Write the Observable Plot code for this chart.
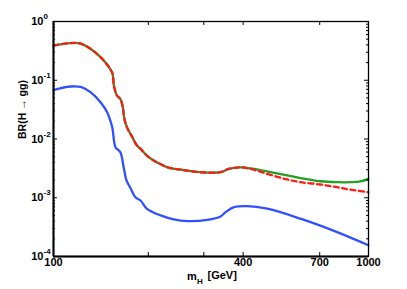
<!DOCTYPE html>
<html><head><meta charset="utf-8">
<script src="https://cdn.jsdelivr.net/npm/d3@7"></script>
<script src="https://cdn.jsdelivr.net/npm/@observablehq/plot@0.6"></script>
<style>html,body{margin:0;padding:0;background:#fff} svg{display:block}</style>
</head><body><div id="chart"></div>
<script>
// Green solid curve
const massGreen = [100, 113, 122, 131, 141, 150, 154, 155.5, 159, 163, 165, 166.5, 167.5, 171, 178, 184, 189, 198, 208, 213, 230, 250, 266, 293, 339, 360, 392, 432, 489, 552, 608, 704, 795, 877, 943, 1000];
const brGreen   = [0.39, 0.43, 0.42, 0.343, 0.247, 0.167, 0.129, 0.081, 0.055, 0.048, 0.040, 0.031, 0.0235, 0.0159, 0.0107, 0.00775, 0.0068, 0.0052, 0.0043, 0.0040, 0.0033, 0.00303, 0.0029, 0.00272, 0.00272, 0.0031, 0.0033, 0.0031, 0.00272, 0.0024, 0.00216, 0.00191, 0.00184, 0.00184, 0.0019, 0.0021];
// Red dashed curve
const massRed = [100, 113, 122, 131, 141, 150, 154, 155.5, 159, 163, 165, 166.5, 167.5, 171, 178, 184, 189, 198, 208, 213, 230, 250, 266, 293, 339, 360, 392, 432, 489, 552, 608, 704, 795, 877, 1000];
const brRed   = [0.39, 0.43, 0.42, 0.343, 0.247, 0.167, 0.129, 0.081, 0.055, 0.048, 0.040, 0.031, 0.0235, 0.0159, 0.0107, 0.00775, 0.0068, 0.0052, 0.0043, 0.0040, 0.0033, 0.00303, 0.0029, 0.00272, 0.00272, 0.0031, 0.0033, 0.0030, 0.00245, 0.00205, 0.00184, 0.00168, 0.00151, 0.00137, 0.00124];
// Blue solid curve
const massBlue = [100, 113, 122, 131, 141, 148, 153.6, 157.3, 163, 167, 170.5, 176, 182, 189, 198, 219, 241, 266, 308, 339, 352, 374, 412, 477, 608, 795, 1000];
const brBlue   = [0.0682, 0.0783, 0.077, 0.0626, 0.0423, 0.0286, 0.0159, 0.00725, 0.00596, 0.00331, 0.00197, 0.00142, 0.00102, 0.000898, 0.000648, 0.0005, 0.000427, 0.0004, 0.00042, 0.00048, 0.00057, 0.00069, 0.00072, 0.00065, 0.00044, 0.00026, 0.000155];

const xTicks = [100, 200, 300, 400, 700, 1000];
const xTickLabels = [100, 400, 700, 1000];
const yMajor = [1e-4, 1e-3, 1e-2, 1e-1, 1];
const yExponents = ["-4", "-3", "-2", "-1", "0"];
const yMinor = [1e-4, 1e-3, 1e-2, 1e-1].flatMap(d => [2,3,4,5,6,7,8,9].map(k => k * d));

const toRows = (xs, ys) => xs.map((m, i) => ({m, br: ys[i]}));
const green = toRows(massGreen, brGreen);
const red = toRows(massRed, brRed);
const blue = toRows(massBlue, brBlue);
const yLabels = yMajor.map((v, i) => ({v, e: yExponents[i]}));

const W = 407, H = 289, mL = 53, mR = 39, mT = 21, mB = 33;
const innerW = W - mL - mR, innerH = H - mT - mB;
const font = "'Liberation Sans', Arial, Helvetica, sans-serif";

const chart = Plot.plot({
  width: W, height: H,
  marginLeft: mL, marginRight: mR, marginTop: mT, marginBottom: mB,
  style: {fontFamily: font, background: "white", color: "black"},
  x: {type: "log", domain: [100, 1000], axis: null},
  y: {type: "log", domain: [1e-4, 1], axis: null},
  marks: [
    Plot.line(green, {x: "m", y: "br", stroke: "#22a022", strokeWidth: 2.3, curve: "catmull-rom"}),
    Plot.line(red, {x: "m", y: "br", stroke: "#ff1a1a", strokeWidth: 2.3, strokeDasharray: "5,3.5", curve: "catmull-rom"}),
    Plot.line(blue, {x: "m", y: "br", stroke: "#3050ff", strokeWidth: 2.3, curve: "catmull-rom"}),
    Plot.frame({stroke: "black", strokeWidth: 1.3}),
    Plot.ruleX([100], {x: d => d, stroke: "black", strokeWidth: 2}),
    Plot.ruleY([1e-4], {y: d => d, stroke: "black", strokeWidth: 2}),
    // inward ticks
    Plot.tickX(xTicks, {x: d => d, insetTop: innerH - 4, stroke: "black"}),
    Plot.tickX(xTicks, {x: d => d, insetBottom: innerH - 4, stroke: "black"}),
    Plot.tickY(yMajor, {y: d => d, insetRight: innerW - 4, stroke: "black"}),
    Plot.tickY(yMajor, {y: d => d, insetLeft: innerW - 4, stroke: "black"}),
    Plot.tickY(yMinor, {y: d => d, insetRight: innerW - 2, stroke: "black"}),
    Plot.tickY(yMinor, {y: d => d, insetLeft: innerW - 2, stroke: "black"}),
    // tick labels
    Plot.text(xTickLabels, {x: d => d, frameAnchor: "bottom", dy: 9.5, text: d => String(d), fontSize: 11, fontWeight: "bold"}),
    Plot.text(yLabels, {y: "v", frameAnchor: "left", dx: -10, text: () => "10", textAnchor: "end", fontSize: 11, fontWeight: "bold"}),
    Plot.text(yLabels, {y: "v", frameAnchor: "left", dx: -10, dy: -5, text: "e", textAnchor: "start", fontSize: 8, fontWeight: "bold"}),
    // axis titles
    Plot.text(["m"], {frameAnchor: "bottom", dx: -24, dy: 23, text: d => d, textAnchor: "start", lineAnchor: "bottom", fontSize: 11, fontWeight: "bold"}),
    Plot.text(["H"], {frameAnchor: "bottom", dx: -14, dy: 27, text: d => d, textAnchor: "start", lineAnchor: "bottom", fontSize: 8, fontWeight: "bold"}),
    Plot.text(["[GeV]"], {frameAnchor: "bottom", dx: -3.5, dy: 22, text: d => d, textAnchor: "start", lineAnchor: "bottom", fontSize: 11, fontWeight: "bold"}),
    Plot.text(["BR(H \u2192 gg)"], {frameAnchor: "left", dx: -31, text: d => d, rotate: -90, fontSize: 10.5, fontWeight: "bold"})
  ]
});
document.getElementById("chart").appendChild(chart);
</script>
</body></html>
